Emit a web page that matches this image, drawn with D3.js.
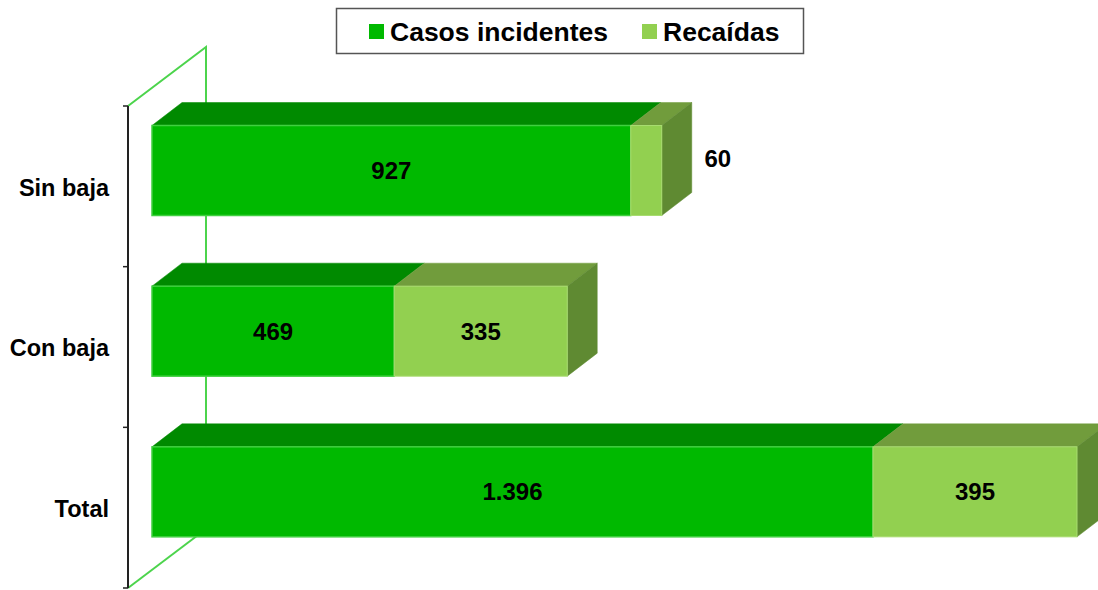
<!DOCTYPE html>
<html><head><meta charset="utf-8">
<script src="https://cdn.jsdelivr.net/npm/d3@7"></script>
<style>body{margin:0;background:#fff}svg{display:block}</style>
</head><body>
<script>
const categories = ["Sin baja", "Con baja", "Total"];
const casosIncidentes = [927, 469, 1396];
const recaidas = [60, 335, 395];
const seriesNames = ["Casos incidentes", "Recaídas"];
const valueLabels = [["927", "469", "1.396"], ["60", "335", "395"]];

const W = 1098, H = 590;
const svg = d3.select("body").append("svg").attr("width", W).attr("height", H);
const font = "Liberation Sans, Arial, sans-serif";

const x = d3.scaleLinear().domain([0, 1791]).range([152, 1077]);
const y = d3.scaleBand().domain(categories).range([106, 588]);
const barOff = 19.5, barH = 90;
const dx = 30, dy = 23;     // bar depth
const wdx = 78, wdy = 59;   // wall depth

const colors = {
  inc: {front: "#00b900", top: "#008a00", side: "#007800", edge: "#40d040"},
  rec: {front: "#92d050", top: "#719c3c", side: "#5f8a32", edge: "#a8dc70"}
};

// back wall / floor lines
const wall = svg.append("g").attr("stroke", "#4cd44c").attr("stroke-width", 2).attr("fill", "none");
const x0 = 128, yTop = y.range()[0], yBot = y.range()[1];
wall.append("path").attr("d", `M${x0},${yTop}L${x0 + wdx},${yTop - wdy}L${x0 + wdx},${yBot - wdy}`);
wall.append("path").attr("d", `M${x0},${yBot}L${x0 + wdx},${yBot - wdy}`);

// axis
const gAxis = svg.append("g").attr("transform", `translate(${x0},0)`);
gAxis.append("line").attr("y1", yTop).attr("y2", yBot).attr("stroke", "#222").attr("stroke-width", 2);
const tickYs = categories.map(c => y(c)).concat([yBot]);
gAxis.selectAll("line.tk").data(tickYs).join("line").attr("class", "tk")
  .attr("x1", -5).attr("x2", 0).attr("y1", d => d).attr("y2", d => d).attr("stroke", "#222").attr("stroke-width", 1.5);

// category labels
svg.append("g").selectAll("text").data(categories).join("text")
  .attr("x", 109).attr("y", d => y(d) + y.bandwidth() / 2 + 3)
  .attr("text-anchor", "end").attr("dominant-baseline", "middle")
  .attr("font-family", font).attr("font-weight", "bold").attr("font-size", 23.5).attr("fill", "#000")
  .text(d => d);

function para(a, b, yy) {
  return `M${a},${yy}L${b},${yy}L${b + dx},${yy - dy}L${a + dx},${yy - dy}Z`;
}

categories.forEach((c, i) => {
  const g = svg.append("g");
  const yy = y(c) + barOff;
  const a0 = x(0), a1 = x(casosIncidentes[i]), a2 = x(casosIncidentes[i] + recaidas[i]);
  // tops
  g.append("path").attr("d", para(a0, a1, yy)).attr("fill", colors.inc.top).attr("stroke", colors.inc.top).attr("stroke-width", 0.5);
  g.append("path").attr("d", para(a1, a2, yy)).attr("fill", colors.rec.top).attr("stroke", colors.rec.top).attr("stroke-width", 0.5);
  // side
  g.append("path").attr("d", `M${a2},${yy}L${a2 + dx},${yy - dy}L${a2 + dx},${yy + barH - dy}L${a2},${yy + barH}Z`)
    .attr("fill", colors.rec.side).attr("stroke", colors.rec.side).attr("stroke-width", 0.5);
  // fronts
  g.append("rect").attr("x", a0).attr("y", yy).attr("width", a1 - a0).attr("height", barH)
    .attr("fill", colors.inc.front).attr("stroke", colors.inc.edge).attr("stroke-width", 1.5);
  g.append("rect").attr("x", a1).attr("y", yy).attr("width", a2 - a1).attr("height", barH)
    .attr("fill", colors.rec.front).attr("stroke", colors.rec.edge).attr("stroke-width", 1);
  // labels
  g.append("text").attr("x", (a0 + a1) / 2).attr("y", yy + barH / 2 + 2)
    .attr("text-anchor", "middle").attr("dominant-baseline", "middle")
    .attr("font-family", font).attr("font-weight", "bold").attr("font-size", 24).text(valueLabels[0][i]);
  const inside = (a2 - a1) > 60;
  g.append("text").attr("x", inside ? (a1 + a2) / 2 : a2 + dx + 26).attr("y", inside ? yy + barH / 2 + 2 : yy + 35)
    .attr("text-anchor", "middle").attr("dominant-baseline", "middle")
    .attr("font-family", font).attr("font-weight", "bold").attr("font-size", 24).text(valueLabels[1][i]);
});

// legend
const lg = svg.append("g");
lg.append("rect").attr("x", 336.5).attr("y", 8.5).attr("width", 467).attr("height", 45)
  .attr("fill", "#fff").attr("stroke", "#555").attr("stroke-width", 1.5);
const legX = [369, 642];
const legCol = [colors.inc.front, colors.rec.front];
seriesNames.forEach((s, i) => {
  lg.append("rect").attr("x", legX[i]).attr("y", 24).attr("width", 15).attr("height", 15).attr("fill", legCol[i]);
  lg.append("text").attr("x", legX[i] + 21).attr("y", 41).attr("font-family", font).attr("font-weight", "bold")
    .attr("font-size", 26.5).attr("fill", "#000").text(s);
});
</script>
</body></html>
